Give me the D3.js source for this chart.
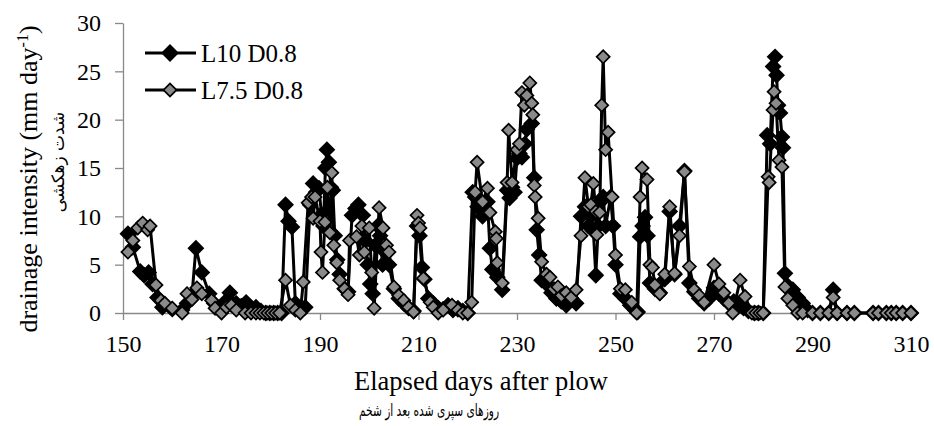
<!doctype html>
<html>
<head>
  <meta charset="utf-8">
  <script src="https://cdnjs.cloudflare.com/ajax/libs/d3/7.8.5/d3.min.js"></script>
  <style>
    body { margin: 0; background: #fff; }
    text { font-family: "Liberation Serif", "Times New Roman", serif; fill: #000; }
    .fa { font-family: "DejaVu Sans", "Noto Sans", sans-serif; }
  </style>
</head>
<body>
  <svg id="chart" width="934" height="426"></svg>
  <script>
    // [day, drainage intensity]
    var l10 = [[151,8.2],[152,6.8],[153.5,4.3],[154.3,3.9],[155.2,4.2],[156,3.0],[157,1.6],[158,0.6],[160,0.4],[162,0.3],
      [163,1.0],[164,1.8],[164.8,6.7],[166,4.2],[167.5,2.0],[168.5,1.0],[170,0.5],[171,1.3],[171.7,2.1],[173,1.0],
      [174,0.7],[175,1.1],[176,0.5],[177,0.6],[178,0.2],[179,0],[179.8,0],[180.6,0],[181.4,0],[182.2,0],
      [183,11.2],[183.6,9.5],[184.3,8.9],[185,1.0],[186,0.3],[187,0.6],[188,11.2],[188.6,13.4],[189.2,12.5],[189.8,12.9],
      [190.3,10.2],[190.7,9.0],[191.1,15.0],[191.4,16.9],[191.8,15.6],[192.2,13.0],[192.6,12.7],[193,8.0],[193.5,5.5],[194,4.0],
      [195,2.5],[195.7,2.2],[196.5,10.1],[197.2,10.8],[197.8,11.2],[198.7,10.1],[199.2,7.5],[199.7,5.0],[200.2,3.0],[200.7,2.0],
      [201.2,7.0],[201.7,9.0],[202.2,8.0],[202.7,5.0],[203.2,6.3],[204,5.0],[205,2.5],[206,1.5],[207,1.0],[208,0.5],
      [209,0.2],[209.7,9.0],[210.2,8.0],[210.7,4.7],[211.2,3.5],[212,1.5],[213,1.0],[214,0.5],[215,0.4],[216,0.8],
      [217,0.3],[218,0.5],[219,0.2],[220,0],[221,12.5],[221.5,12.0],[222,11.0],[223,10.0],[224,11.5],[224.5,6.7],
      [225,4.5],[226,3.7],[227,2.4],[228,12.7],[228.5,11.9],[229,13.0],[229.5,12.5],[230,16.0],[230.5,16.5],[231,16.1],
      [231.6,17.5],[232,19.0],[233,19.6],[233.5,14.0],[234,8.6],[234.5,6.0],[235,3.4],[236,3.0],[237,2.1],[238,1.5],
      [239,1.2],[240,0.8],[241,1.5],[242,1.0],[243,10.0],[243.8,11.0],[244.5,9.0],[245,10.0],[245.5,8.5],[246,3.9],
      [246.5,9.0],[247,11.5],[247.5,12.0],[248,9.0],[249,12.0],[249.5,9.0],[250,5.0],[251,2.0],[252,1.5],[253,0.8],
      [254,0.3],[254.5,0.1],[255,7.9],[255.5,9.0],[256,9.9],[256.5,8.0],[257,3.1],[258,2.5],[259,2.1],[260,3.5],
      [261,10.5],[262,4.0],[263,9.0],[264,14.7],[265,3.1],[266,2.2],[267,1.5],[268,1.0],[269,1.5],[270,2.6],
      [271,2.0],[272,1.5],[273,1.0],[274,1.2],[275,0.8],[276,0.5],[277,0.2],[278.2,0],[279,0],[280,0],
      [280.8,18.4],[281.4,17.5],[282,25.5],[282.4,26.5],[282.7,24.6],[283,21.5],[283.4,20.7],[283.8,18.2],[284,17.1],[284.4,4.1],
      [285,2.8],[286,2.4],[287,1.6],[288,1.0],[289,0.3],[290,0],[291.6,0],[293.3,0],[294.2,2.4],[295,0],
      [297,0],[298.5,0],[302.3,0],[303.4,0],[305,0],[306,0],[307,0],[308.3,0],[310,0]];

    var l75 = [[151,6.3],[152,7.5],[153,8.8],[154,9.3],[155,8.6],[155.5,9.0],[156.7,2.9],[157.7,1.3],[158.5,1.0],[160,0.5],
      [162,0],[163,2.0],[164,1.4],[165,2.6],[166,2.0],[168,1.3],[168.7,0.5],[170,0],[171,0.6],[172,0.8],
      [173,0.3],[174.8,0],[176,0],[177,0],[177.8,0],[178.6,0],[179.4,0],[180.2,0],[181,0],[181.8,0],
      [183,3.4],[184,0.8],[185,0.3],[186,0],[186.6,3.2],[187.6,11.4],[188.3,12.0],[188.6,9.8],[189,12.0],[190,9.5],
      [190.2,6.3],[190.5,4.2],[191,9.4],[191.5,13.0],[192,8.3],[192.4,14.5],[192.8,7.0],[193.4,5.2],[194,3.4],[195,2.5],
      [195.7,1.9],[196,7.5],[197.4,7.9],[198,6.0],[198.5,9.0],[199,6.3],[200,8.8],[200.5,4.2],[201,0.5],[202,10.9],
      [202.8,8.8],[203.5,7.0],[204,6.3],[205,2.7],[206,1.8],[207,1.3],[208,0.6],[209,0.1],[209.7,10.1],[210,9.3],
      [210.3,8.8],[211,3.6],[212.4,1.1],[213,0.6],[214,0],[215,0.3],[216.8,0.8],[218,0.3],[219,0],[220,0],
      [220.8,1.1],[221.5,12.5],[221.9,15.6],[223,11.5],[224,12.9],[224.5,10.4],[225.6,8.4],[225.8,7.7],[226,5.2],[227,3.1],
      [228,13.5],[228.3,18.9],[229,13.5],[230,16.9],[230.5,17.5],[231,22.8],[231.5,21.5],[232,22.5],[232.6,23.8],[233,21.7],
      [233.2,20.5],[233.5,13.2],[233.7,12.0],[234.3,9.8],[235,5.3],[236,4.0],[236.7,3.7],[237.5,2.5],[238.3,2.7],[239,1.8],
      [240,2.1],[241,1.6],[242,2.4],[243,8.0],[243.8,14.0],[244.5,11.0],[245,11.2],[245.5,13.4],[246,10.5],[246.2,8.1],
      [246.8,10.4],[247.2,21.5],[247.5,26.5],[248,16.9],[248.5,18.7],[249.3,12.0],[250,6.0],[251,2.5],[252,2.4],[253.3,1.1],
      [254.3,0],[255,12.0],[255.4,15.0],[256.4,13.8],[257,5.0],[257.5,4.7],[258,2.9],[259,2.0],[260,4.0],[261,11.0],
      [262,4.1],[263,8.0],[264,14.6],[265,4.8],[266,2.4],[267,1.8],[268,1.1],[270,5.0],[271,3.0],[272,2.1],
      [273,1.0],[273.8,0],[275.3,3.4],[276.3,1.7],[277.7,0],[278.5,0],[279.3,0],[280,0],[281,14.1],[281.2,13.5],
      [282,21.0],[282.2,22.9],[282.6,21.7],[283.2,15.8],[283.8,15.1],[284.4,2.7],[285,1.5],[286,0.8],[287,0],[288,0],
      [290,0],[291.6,0],[293.3,0],[294.2,1.6],[295,0],[297,0],[298.5,0],[302.3,0],[303.4,0],[305,0],
      [306,0],[307,0],[308.3,0],[310,0]];

    var xTicks = [150, 170, 190, 210, 230, 250, 270, 290, 310];
    var yTicks = [0, 5, 10, 15, 20, 25, 30];
    var seriesNames = ["L10 D0.8", "L7.5 D0.8"];
    var seriesFill = ["#000000", "#8a8a8a"];

    var svg = d3.select("#chart");
    var axisColor = "#898989";

    var x = d3.scaleLinear().domain([150, 310]).range([123, 911]);
    var y = d3.scaleLinear().domain([0, 30]).range([313, 23]);

    // axes
    var xAxis = svg.append("g")
      .attr("transform", "translate(0,313)")
      .call(d3.axisBottom(x).tickValues(xTicks).tickSize(7).tickSizeOuter(0).tickPadding(15));
    var yAxis = svg.append("g")
      .attr("transform", "translate(123,0)")
      .call(d3.axisLeft(y).tickValues(yTicks).tickSize(8).tickSizeOuter(0).tickPadding(14));

    [xAxis, yAxis].forEach(function(a) {
      a.select(".domain").attr("stroke", axisColor).attr("stroke-width", 1.3);
      a.selectAll(".tick line").attr("stroke", axisColor).attr("stroke-width", 1.3);
      a.selectAll(".tick text")
        .style("font-family", "Liberation Serif")
        .style("font-size", "24px")
        .attr("fill", "#000");
    });

    var line = d3.line().x(d => x(d[0])).y(d => y(d[1]));
    var diamond = d3.symbol().type(d3.symbolSquare);

    function drawSeries(data, fill, size) {
      var g = svg.append("g");
      g.append("path")
        .datum(data)
        .attr("d", line)
        .attr("fill", "none")
        .attr("stroke", "#000")
        .attr("stroke-width", 3)
        .attr("stroke-linejoin", "round");
      g.selectAll("path.pt")
        .data(data)
        .enter()
        .append("path")
        .attr("class", "pt")
        .attr("d", diamond.size(size))
        .attr("transform", d => `translate(${x(d[0])},${y(d[1])}) rotate(45)`)
        .attr("fill", fill)
        .attr("stroke", "#000")
        .attr("stroke-width", 1.7);
    }

    drawSeries(l10, seriesFill[0], 105);
    drawSeries(l75, seriesFill[1], 85);

    // legend
    var legend = svg.append("g");
    [53, 90].forEach(function(ly, i) {
      legend.append("line")
        .attr("x1", 145).attr("x2", 196)
        .attr("y1", ly).attr("y2", ly)
        .attr("stroke", "#000").attr("stroke-width", 3);
      legend.append("path")
        .attr("d", diamond.size(i == 0 ? 120 : 85))
        .attr("transform", `translate(170,${ly}) rotate(45)`)
        .attr("fill", seriesFill[i])
        .attr("stroke", "#000")
        .attr("stroke-width", 1.7);
      legend.append("text")
        .attr("x", 201).attr("y", ly + 9)
        .style("font-size", "25px")
        .text(seriesNames[i]);
    });

    // axis titles
    svg.append("text")
      .attr("x", 481).attr("y", 390)
      .attr("text-anchor", "middle")
      .style("font-size", "26.5px")
      .text("Elapsed days after plow");
    svg.append("text")
      .attr("class", "fa")
      .attr("x", 429).attr("y", 416)
      .attr("text-anchor", "middle")
      .attr("direction", "rtl")
      .attr("textLength", 140)
      .attr("lengthAdjust", "spacingAndGlyphs")
      .style("font-size", "16.5px")
      .text("روزهای سپری شده بعد از شخم");

    var yt = svg.append("text")
      .attr("transform", "translate(37,179) rotate(-90)")
      .attr("text-anchor", "middle")
      .style("font-size", "26px");
    yt.append("tspan").text("drainage intensity (mm day");
    yt.append("tspan").attr("dy", -9).style("font-size", "16px").text("-1");
    yt.append("tspan").attr("dy", 9).text(")");

    svg.append("text")
      .attr("class", "fa")
      .attr("transform", "translate(64,162) rotate(-90)")
      .attr("text-anchor", "middle")
      .attr("direction", "rtl")
      .style("font-size", "17px")
      .text("شدت زهکشی");
  </script>
</body>
</html>
